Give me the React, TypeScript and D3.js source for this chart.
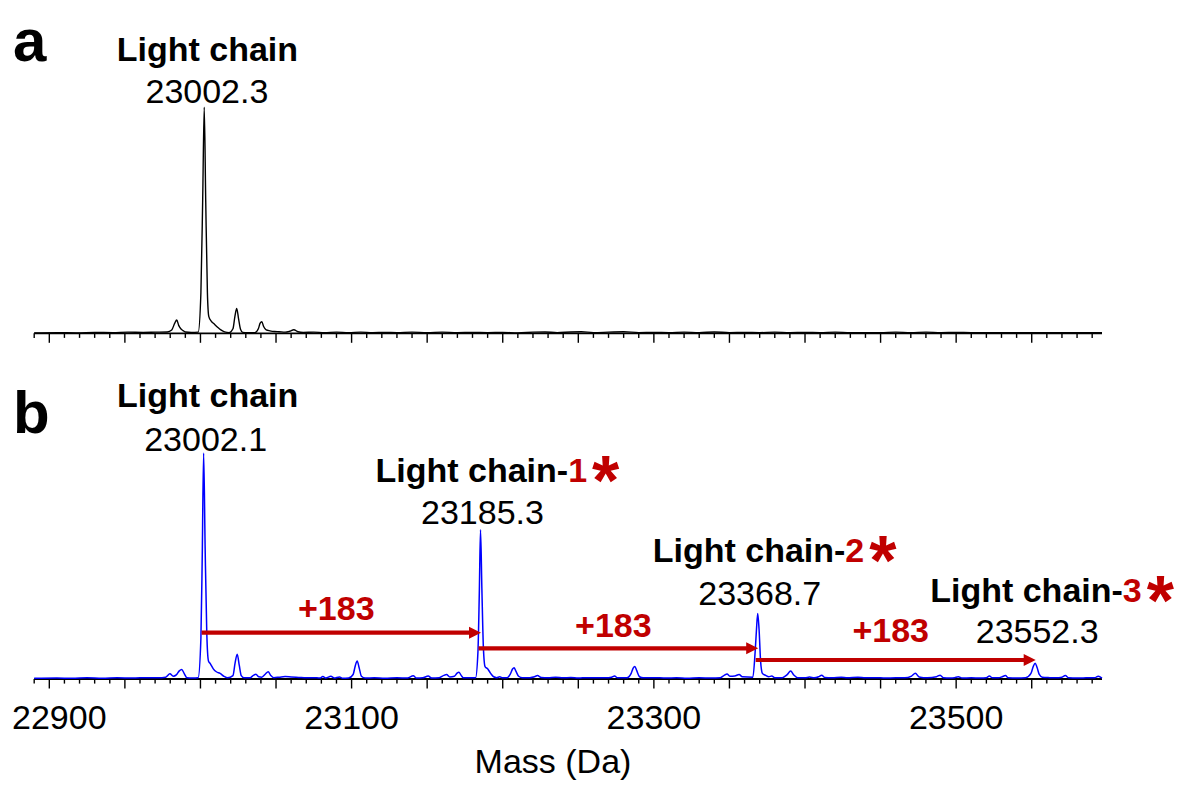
import React from "react";
import * as d3 from "d3";

const FONT = "'Liberation Sans', Arial, Helvetica, sans-serif";
const RED = "#c00000";
const BLUE = "#0000ff";

// x axis
const massDomain = [22890, 23596.5];
const tickLabels = [22900, 23100, 23300, 23500];
const axisTitle = "Mass (Da)";

// panel a spectrum: [mass (Da), relative intensity %]
const spectrumA: [number, number][] = [
  [22890, 0.2], [22905, 0.3], [22918, 0.2], [22930, 0.4], [22942, 0.3], [22952, 0.5], [22962, 0.4],
  [22970, 0.5], [22978, 0.6], [22981, 1.5], [22983, 4.5], [22984.3, 5.9], [22985.6, 3.5], [22987, 2],
  [22988.5, 1.2], [22990, 0.6], [22994, 0.4], [22998.5, 0.5], [23000.3, 18], [23001.5, 60],
  [23002.5, 100], [23003.5, 58], [23004.6, 18], [23005.5, 7.5], [23007, 5.5], [23009, 4.2],
  [23011.5, 2.6], [23013.5, 1.5], [23016, 0.6], [23019, 0.3], [23021.5, 2], [23022.8, 7.5],
  [23024, 11], [23025.2, 6.5], [23026.5, 1.8], [23028, 0.4], [23031, 0.3], [23036, 0.3],
  [23038.3, 2], [23039.5, 4.5], [23040.6, 5.1], [23041.8, 3], [23043.5, 1.5], [23046, 1.1],
  [23049, 0.8], [23052, 0.7], [23056, 0.5], [23059, 0.9], [23061.8, 1.6], [23064.5, 0.7],
  [23068, 0.4], [23075, 0.5], [23082, 0.3], [23090, 0.5], [23098, 0.3], [23106, 0.5], [23114, 0.3],
  [23122, 0.4], [23130, 0.3], [23140, 0.5], [23150, 0.3], [23160, 0.5], [23170, 0.3], [23180, 0.4],
  [23190, 0.3], [23200, 0.4], [23210, 0.2], [23220, 0.5], [23228, 0.6], [23236, 0.3], [23245, 0.6],
  [23252, 0.7], [23260, 0.3], [23270, 0.5], [23280, 0.7], [23290, 0.3], [23300, 0.4], [23310, 0.3],
  [23320, 0.5], [23330, 0.3], [23340, 0.6], [23350, 0.3], [23360, 0.4], [23370, 0.3], [23380, 0.5],
  [23390, 0.3], [23400, 0.4], [23410, 0.3], [23420, 0.5], [23430, 0.3], [23440, 0.3], [23450, 0.3],
  [23460, 0.5], [23470, 0.3], [23480, 0.5], [23490, 0.3], [23500, 0.4], [23510, 0.3], [23520, 0.3],
  [23530, 0.3], [23540, 0.3], [23550, 0.3], [23560, 0.3], [23570, 0.3], [23580, 0.3], [23590, 0.3],
  [23596.5, 0.3],
];

// panel b spectrum: [mass (Da), relative intensity %]
const spectrumB: [number, number][] = [
  [22890, 0.3], [22905, 0.4], [22915, 0.3], [22925, 0.5], [22935, 0.3], [22945, 0.5], [22955, 0.4],
  [22965, 0.6], [22972, 0.5], [22977, 0.8], [22979.8, 2.3], [22982, 1.2], [22984, 1.8], [22986, 3.6],
  [22987.6, 4.2], [22989.2, 2.5], [22991, 0.6], [22995, 0.4], [22998.5, 0.6], [23000.3, 18],
  [23001.2, 55], [23002.1, 100], [23003.1, 58], [23004.2, 20], [23005.3, 8], [23006.5, 6.8],
  [23008.5, 4.5], [23010.5, 3.2], [23013, 2.5], [23015.5, 1.2], [23018, 0.5], [23021.5, 1.5],
  [23022.9, 7], [23024.3, 11], [23025.7, 6], [23027, 1.5], [23029, 0.5], [23033, 0.6], [23035, 1.6],
  [23036.7, 2.1], [23038.5, 1], [23040.5, 0.8], [23043, 2.2], [23044.8, 3.2], [23046.5, 1.6],
  [23048.5, 0.6], [23052, 0.8], [23056, 1.1], [23060, 0.9], [23065, 0.7], [23070, 0.5], [23075, 0.6],
  [23079, 0.4], [23081, 1.1], [23083, 0.4], [23086.3, 1.2], [23088.5, 0.4], [23092, 0.9], [23094, 0.3],
  [23098, 0.4], [23101, 2], [23102.5, 6], [23103.7, 8], [23105, 5], [23106.5, 1.2], [23109, 0.4],
  [23115, 0.5], [23122, 0.3], [23130, 0.5], [23137, 0.4], [23140.8, 1.4], [23143, 0.4], [23147, 0.5],
  [23150.7, 1.3], [23153, 0.4], [23158, 0.6], [23161, 1.6], [23162.8, 2], [23165, 0.9], [23168, 1.2],
  [23169.8, 2.6], [23171, 3], [23172.5, 1.6], [23174, 0.5], [23182, 0.5], [23183.6, 12], [23184.5, 38],
  [23185.3, 66], [23186.2, 40], [23187.2, 14], [23188.3, 5.5], [23190, 4.5], [23192, 2.5], [23194, 1],
  [23196, 0.6], [23198, 1], [23200, 0.5], [23203, 0.6], [23205, 2.2], [23206.5, 4.4], [23207.5, 5],
  [23208.7, 3.5], [23210.5, 1.2], [23213, 0.5], [23218, 0.6], [23221, 1], [23223, 1.5], [23225.5, 0.7],
  [23230, 0.6], [23235, 0.8], [23240, 0.5], [23245, 0.7], [23250, 0.4], [23256, 0.6], [23262, 0.5],
  [23268, 0.5], [23272, 0.8], [23274, 1.3], [23276, 0.5], [23282, 0.5], [23285, 2.5], [23286.3, 4.8],
  [23287.4, 5.5], [23288.6, 3.8], [23290.5, 1], [23293, 0.5], [23300, 0.6], [23308, 0.4], [23315, 0.5],
  [23322, 0.3], [23330, 0.5], [23338, 0.4], [23344, 0.6], [23346.5, 1.6], [23348.4, 2.2], [23350.5, 1.2],
  [23353.5, 1.3], [23356.4, 2], [23358.5, 1], [23365.5, 0.8], [23367, 12], [23367.9, 22], [23368.7, 29],
  [23369.6, 22], [23370.6, 8], [23371.8, 2.5], [23374, 1.6], [23376, 1], [23378, 1.3], [23380, 0.6],
  [23385, 0.6], [23388, 1.8], [23390.5, 3.5], [23392.5, 1.8], [23395, 0.6], [23400, 0.5], [23403, 0.9],
  [23406, 0.5], [23409, 1], [23411, 1.7], [23413, 0.7], [23418, 0.5], [23424, 0.8], [23428, 0.5],
  [23435, 0.8], [23440, 0.5], [23447, 0.6], [23453, 0.4], [23460, 0.5], [23466, 0.5], [23470.5, 1.3],
  [23473, 2.5], [23475.5, 0.9], [23481, 0.5], [23487, 1], [23489.4, 1.7], [23491.5, 0.6], [23496, 0.4],
  [23499, 0.6], [23501.4, 1], [23504, 0.4], [23510, 0.5], [23516, 0.4], [23520, 0.6], [23522, 1.3],
  [23524, 0.5], [23528, 0.5], [23530.5, 1], [23532.6, 1.5], [23534.5, 0.5], [23540, 0.4], [23546, 0.6],
  [23549.5, 2.5], [23551, 5.5], [23552.3, 7], [23553.6, 5], [23555, 2], [23557, 0.8], [23562, 0.6],
  [23566, 0.5], [23570, 0.8], [23572.2, 1.5], [23574.5, 0.5], [23580, 0.4], [23586, 0.5], [23592, 0.6],
  [23594, 1.2], [23596.5, 0.4],
];

// annotations
const peakA = { mass: 23002.3, name: "Light chain", label: "23002.3" };
const peaksB = [23002.1, 23185.3, 23368.7, 23552.3];
const peakLabelsB = ["23002.1", "23185.3", "23368.7", "23552.3"];
const peakNumbersB = ["", "1", "2", "3"];
const shiftLabels = ["+183", "+183", "+183"];

// layout (pixels)
const W = 1200;
const H = 789;
const X0 = 34.2;
const X1 = 1102;
const BASE_A = 333.3;
const BASE_B = 679;
const PEAK_H = 226;
const nameBaselineB = [406.7, 481.7, 561.7, 602.3];
const massBaselineB = [451, 524.3, 605, 643.3];
const arrowYs = [632.7, 648.3, 660];
const shiftBaselines = [620, 637.3, 641.7];

export default function App() {
  const x = d3.scaleLinear().domain(massDomain).range([X0, X1]);
  const yA = d3.scaleLinear().domain([0, 100]).range([BASE_A, BASE_A - PEAK_H]);
  const yB = d3.scaleLinear().domain([0, 100]).range([BASE_B, BASE_B - PEAK_H]);

  const lineA = d3.line<[number, number]>().x((d) => x(d[0])).y((d) => yA(d[1])).curve(d3.curveMonotoneX);
  const lineB = d3.line<[number, number]>().x((d) => x(d[0])).y((d) => yB(d[1])).curve(d3.curveMonotoneX);

  const ticks = d3.range(22890, 23591, 10);

  const axis = (base: number) => (
    <g>
      <line x1={X0} x2={X1} y1={base} y2={base} stroke="#000" strokeWidth={1.8} />
      {ticks.map((t) => {
        const major = t % 50 === 0;
        return (
          <line
            key={t}
            x1={x(t)}
            x2={x(t)}
            y1={base}
            y2={base + (major ? 9.5 : 4.6)}
            stroke="#000"
            strokeWidth={1.4}
          />
        );
      })}
    </g>
  );

  const headLen = 12;
  const headHalf = 6;

  return (
    <svg
      width={W}
      height={H}
      viewBox={`0 0 ${W} ${H}`}
      style={{ position: "absolute", left: 0, top: 0, display: "block", background: "#fff" }}
      fontFamily={FONT}
    >
      <rect x={0} y={0} width={W} height={H} fill="#fff" />

      {/* panel letters */}
      <text x={13} y={61} fontSize={60} fontWeight="bold" fill="#000">a</text>
      <text x={13} y={433} fontSize={60} fontWeight="bold" fill="#000">b</text>

      {/* panel a */}
      {axis(BASE_A)}
      <path d={lineA(spectrumA) || ""} fill="none" stroke="#000" strokeWidth={1.4} strokeLinejoin="round" />
      <text x={x(peakA.mass) + 3.5} y={61} textAnchor="middle" fontSize={34} fontWeight="bold" fill="#000">
        {peakA.name}
      </text>
      <text x={x(peakA.mass) + 3} y={103.3} textAnchor="middle" fontSize={34} fill="#000">
        {peakA.label}
      </text>

      {/* panel b */}
      {axis(BASE_B)}
      <path d={lineB(spectrumB) || ""} fill="none" stroke={BLUE} strokeWidth={1.5} strokeLinejoin="round" />

      {peaksB.map((m, i) =>
        i === 0 ? (
          <text key={"n" + i} x={x(m) + 4} y={nameBaselineB[i]} textAnchor="middle" fontSize={34} fontWeight="bold" fill="#000">
            Light chain
          </text>
        ) : (
          <text key={"n" + i} x={x(m) - 105} y={nameBaselineB[i]} textAnchor="start" fontSize={34} fontWeight="bold" fill="#000">
            Light chain-
            <tspan fill={RED}>{peakNumbersB[i]}</tspan>
            <tspan fill={RED} fontSize={70} dx={5} dy={23}>*</tspan>
          </text>
        )
      )}
      {peaksB.map((m, i) => (
        <text key={"m" + i} x={x(m) + 2} y={massBaselineB[i]} textAnchor="middle" fontSize={34} fill="#000">
          {peakLabelsB[i]}
        </text>
      ))}

      {/* +183 arrows */}
      {shiftLabels.map((lab, i) => {
        const xs = x(peaksB[i]) - 2;
        const xe = x(peaksB[i + 1]) + 0.5;
        const y = arrowYs[i];
        return (
          <g key={"a" + i}>
            <line x1={xs} x2={xe - headLen + 1} y1={y} y2={y} stroke={RED} strokeWidth={4.2} />
            <path d={`M${xe},${y} L${xe - headLen},${y - headHalf} L${xe - headLen},${y + headHalf} Z`} fill={RED} />
            <text x={(xs + xe) / 2 - 5} y={shiftBaselines[i]} textAnchor="middle" fontSize={34} fontWeight="bold" fill={RED}>
              {lab}
            </text>
          </g>
        );
      })}

      {/* x axis labels */}
      {tickLabels.map((t, i) => (
        <text key={t} x={x(t) + (i === 0 ? 10 : 0)} y={729.3} textAnchor="middle" fontSize={34} fill="#000">
          {t}
        </text>
      ))}
      <text x={553} y={773} textAnchor="middle" fontSize={34} fill="#000">{axisTitle}</text>
    </svg>
  );
}
